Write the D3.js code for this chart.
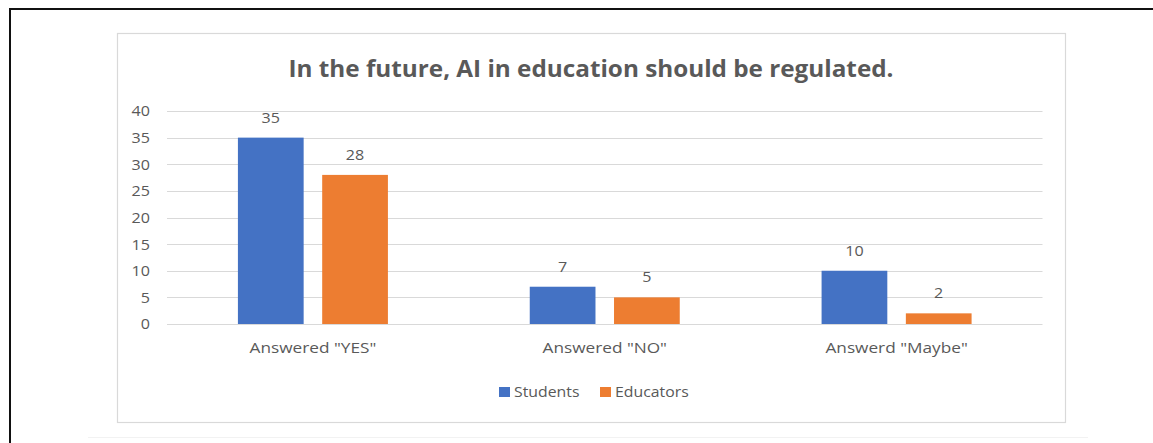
<!DOCTYPE html>
<html>
<head>
<meta charset="utf-8">
<script src="https://cdn.jsdelivr.net/npm/d3@7"></script>
<style>
  html, body { margin: 0; padding: 0; background: #ffffff; }
  svg { display: block; }
  text { font-family: "Open Sans", "Noto Sans", sans-serif; fill: #595959; }
</style>
</head>
<body>
<svg id="chart" width="1153" height="443"></svg>
<script>
// Survey responses: "In the future, AI in education should be regulated."
const categories = ['Answered "YES"', 'Answered "NO"', 'Answerd "Maybe"'];
const seriesNames = ["Students", "Educators"];
const students = [35, 7, 10];
const educators = [28, 5, 2];
const yTicks = [0, 5, 10, 15, 20, 25, 30, 35, 40];
const colors = ["#4472C4", "#ED7D31"];

const svg = d3.select("#chart");
const W = 1153, H = 443;

// widen glyphs horizontally by factor k (keeps the anchor point)
function widen(sel, k) {
  sel.each(function () {
    const len = this.getComputedTextLength();
    d3.select(this).attr("textLength", len * k).attr("lengthAdjust", "spacingAndGlyphs");
  });
}

// page frame (top and left rule)
svg.append("line").attr("x1", 10).attr("x2", W).attr("y1", 9).attr("y2", 9)
  .attr("stroke", "#111").attr("stroke-width", 2);
svg.append("line").attr("x1", 10).attr("x2", 10).attr("y1", 8).attr("y2", H)
  .attr("stroke", "#111").attr("stroke-width", 2);
svg.append("line").attr("x1", 88).attr("x2", 1088).attr("y1", 437.5).attr("y2", 437.5)
  .attr("stroke", "#f2f2f2").attr("stroke-width", 1);

// chart area box
svg.append("rect").attr("x", 117.5).attr("y", 33.5).attr("width", 948).attr("height", 389)
  .attr("fill", "#fff").attr("stroke", "#d9d9d9").attr("stroke-width", 1.2);

// title
svg.append("text").attr("x", 591).attr("y", 77).attr("text-anchor", "middle")
  .attr("font-size", 24).attr("font-weight", 700).style("fill", "#595959")
  .attr("textLength", 605).attr("lengthAdjust", "spacingAndGlyphs")
  .text("In the future, AI in education should be regulated.");

const plot = { left: 167, right: 1042.5, top: 111, bottom: 324 };

const x0 = d3.scaleBand().domain(categories).range([plot.left, plot.right])
  .paddingInner(0).paddingOuter(0);
const groupWidth = 150;
const x1 = d3.scaleBand().domain(seriesNames).range([0, groupWidth]).paddingInner(0.22);
const y = d3.scaleLinear().domain([0, 40]).range([plot.bottom, plot.top]);

// gridlines
svg.append("g").selectAll("line").data(yTicks).join("line")
  .attr("x1", plot.left).attr("x2", plot.right)
  .attr("y1", d => Math.round(y(d)) + 0.5).attr("y2", d => Math.round(y(d)) + 0.5)
  .attr("stroke", "#d9d9d9").attr("stroke-width", 1);

// y axis labels
const yAxis = d3.axisLeft(y).tickValues(yTicks).tickSize(0).tickPadding(0);
const yg = svg.append("g").attr("transform", `translate(${150},0)`).call(yAxis);
yg.select(".domain").remove();
yg.selectAll("text").attr("font-size", 14).style("fill", "#595959")
  .style("font-family", '"Open Sans", sans-serif').attr("dy", "0.35em")
  .call(widen, 1.15);

// x axis labels
const xAxis = d3.axisBottom(x0).tickSize(0).tickPadding(0);
const xg = svg.append("g").attr("transform", `translate(0,${plot.bottom})`).call(xAxis);
xg.select(".domain").remove();
xg.selectAll("text").attr("font-size", 14).attr("y", 24).attr("dy", "0.35em")
  .style("fill", "#595959").style("font-family", '"Open Sans", sans-serif')
  .call(widen, 1.23);

// bars
const rows = categories.map((c, i) => ({ cat: c, values: [students[i], educators[i]] }));
const groups = svg.append("g").selectAll("g").data(rows).join("g")
  .attr("transform", d => `translate(${x0(d.cat) + (x0.bandwidth() - groupWidth) / 2},0)`);

groups.selectAll("rect").data(d => d.values.map((v, k) => ({ name: seriesNames[k], v, k })))
  .join("rect")
  .attr("x", d => x1(d.name))
  .attr("width", x1.bandwidth())
  .attr("y", d => y(d.v))
  .attr("height", d => y(0) - y(d.v))
  .attr("fill", d => colors[d.k]);

groups.selectAll("text.val").data(d => d.values.map((v, k) => ({ name: seriesNames[k], v, k })))
  .join("text").attr("class", "val")
  .attr("x", d => x1(d.name) + x1.bandwidth() / 2)
  .attr("y", d => y(d.v) - 20)
  .attr("dy", "0.35em")
  .attr("text-anchor", "middle").attr("font-size", 14)
  .text(d => d.v)
  .call(widen, 1.15);

// legend
const legend = svg.append("g").attr("transform", "translate(499,392)");
const legendX = [0, 101];
seriesNames.forEach((name, k) => {
  const g = legend.append("g").attr("transform", `translate(${legendX[k]},0)`);
  g.append("rect").attr("x", 0).attr("y", -5).attr("width", 11).attr("height", 10).attr("fill", colors[k]);
  g.append("text").attr("x", 15).attr("y", 0).attr("dy", "0.35em").attr("font-size", 14).text(name)
    .call(widen, 1.13);
});
</script>
</body>
</html>
